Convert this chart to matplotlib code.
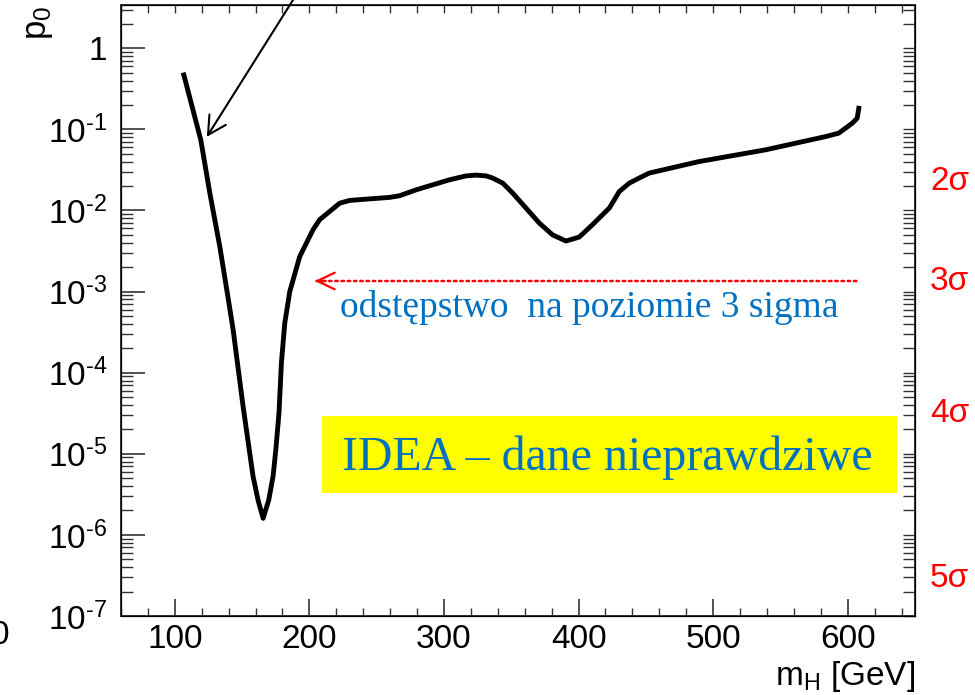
import matplotlib
matplotlib.use("Agg")
import matplotlib.pyplot as plt
from matplotlib.ticker import MultipleLocator, LogLocator, NullFormatter
from matplotlib.patches import Rectangle

# p0 scan vs Higgs mass
mass = [106.7, 119.3, 126.0, 133.4, 139.6, 143.3, 150.7, 158.1, 161.8, 165.6,
        169.8, 173.0, 175.0, 177.4, 179.2, 181.7, 185.4, 192.8, 202.7, 207.6,
        222.5, 229.9, 242.3, 259.6, 267.0, 279.4, 304.1, 316.4, 323.9, 331.3,
        336.2, 343.7, 351.0, 370.8, 380.7, 390.6, 400.5, 410.4, 422.8, 426.5,
        430.2, 437.6, 445.0, 452.4, 489.5, 539.0, 583.5, 593.3, 603.3, 607.0,
        608.2]
p0 = [0.469, 0.074, 0.0164, 3.6e-3, 8.3e-4, 3.4e-4, 3.86e-5, 5.3e-6, 2.7e-6, 1.6e-6,
      2.7e-6, 5.3e-6, 1.1e-5, 3.2e-5, 1.33e-4, 4.1e-4, 1.0e-3, 2.7e-3, 5.8e-3, 7.7e-3,
      0.0123, 0.0133, 0.0138, 0.0145, 0.0152, 0.018, 0.0239, 0.0267, 0.0273, 0.0267,
      0.0251, 0.0217, 0.0164, 7.0e-3, 5.0e-3, 4.2e-3, 4.7e-3, 6.7e-3, 0.0107, 0.0135,
      0.0171, 0.0217, 0.0251, 0.0289, 0.0401, 0.056, 0.0815, 0.0898, 0.119, 0.137,
      0.182]

sigma_labels = ["2σ", "3σ", "4σ", "5σ"]
sigma_pvalues = [2.275e-2, 1.35e-3, 3.17e-5, 2.87e-7]

y_decades = [1e-7, 1e-6, 1e-5, 1e-4, 1e-3, 1e-2, 1e-1, 1]
y_ticklabels = ["$10^{\u2010%d}$" % k for k in range(7, 0, -1)] + ["1"]

plt.rcParams["font.family"] = ["Liberation Sans", "DejaVu Sans"]
plt.rcParams["mathtext.default"] = "regular"

blue = "#0070C0"
ylim = (1e-7, 3.37)
xlim = (60, 650)

fig = plt.figure(figsize=(9.75, 6.95), dpi=100)
ax = fig.add_axes([0.1241, 0.1137, 0.8144, 0.8784])

ax.plot(mass, p0, color="black", lw=3.5, solid_joinstyle="round")

ax.set_yscale("log")
ax.set_xlim(*xlim)
ax.set_ylim(*ylim)

ax.xaxis.set_major_locator(MultipleLocator(100))
ax.xaxis.set_minor_locator(MultipleLocator(20))
ax.set_yticks(y_decades)
ax.set_yticklabels(y_ticklabels)
ax.yaxis.set_minor_locator(LogLocator(base=10, subs=range(2, 10), numticks=20))
ax.yaxis.set_minor_formatter(NullFormatter())

ax.tick_params(axis="both", which="both", direction="in", labelsize=24, color="#333333")
ax.tick_params(axis="y", which="major", length=17, width=1.2, pad=10)
ax.tick_params(axis="y", which="minor", length=8.5, width=1.0)
ax.tick_params(axis="x", which="major", length=12, width=1.2, pad=6)
ax.tick_params(axis="x", which="minor", length=6, width=1.0)
for s in ax.spines.values():
    s.set_linewidth(1.4)
    s.set_color("#333333")

# mirrored ticks on top and right
axt = ax.twiny()
axt.set_xlim(*xlim)
axt.xaxis.set_major_locator(MultipleLocator(100))
axt.xaxis.set_minor_locator(MultipleLocator(20))
axt.tick_params(axis="x", which="both", direction="in", length=6, width=1.0,
                labeltop=False, color="#333333")
axr = ax.twinx()
axr.set_yscale("log")
axr.set_ylim(*ylim)
axr.set_yticks(y_decades)
axr.yaxis.set_minor_locator(LogLocator(base=10, subs=range(2, 10), numticks=20))
axr.yaxis.set_minor_formatter(NullFormatter())
axr.tick_params(axis="y", which="both", direction="in", length=8.5, width=1.0,
                labelright=False, color="#333333")

ax.set_xlabel(r"$m_H$ [GeV]", fontsize=24, ha="right", va="top")
ax.xaxis.set_label_coords(1.0, -0.071)
ax.set_ylabel(r"$p_0$", fontsize=25, rotation=90, ha="right", va="top")
ax.yaxis.label.set_rotation_mode("default")
ax.yaxis.set_label_coords(-0.083, 1.0)

for lab, pv in zip(sigma_labels, sigma_pvalues):
    ax.text(1.019, pv, lab, color="red", fontsize=24, ha="left", va="center",
            transform=ax.get_yaxis_transform(), clip_on=False)

# black arrow from outside the frame
ax.annotate("", xy=(123.8, 0.081), xytext=(190, 4.5), annotation_clip=False,
            arrowprops=dict(arrowstyle="->,head_length=1.3,head_width=0.7",
                            mutation_scale=10, lw=1.5, color="black",
                            shrinkA=0, shrinkB=0))

# red dotted arrow at 3 sigma
p3 = sigma_pvalues[1]
ax.annotate("", xy=(205, p3), xytext=(606.5, p3),
            arrowprops=dict(arrowstyle="-", lw=1.8, color="red",
                            linestyle=(0, (1, 1.5)), shrinkA=0, shrinkB=0))
ax.annotate("", xy=(204, p3), xytext=(212, p3),
            arrowprops=dict(arrowstyle="->,head_length=1.25,head_width=0.6",
                            mutation_scale=10, lw=1.6, color="red",
                            shrinkA=0, shrinkB=0))

ax.text(0.276, 0.49, "odstępstwo  na poziomie 3 sigma", color=blue, fontsize=27,
        family="Liberation Serif", ha="left", va="baseline", transform=ax.transAxes)

ax.add_patch(Rectangle((0.253, 0.2015), 0.724, 0.126, transform=ax.transAxes,
                       facecolor="#FFFF00", edgecolor="none", zorder=3))
ax.text(0.6125, 0.259, "IDEA – dane nieprawdziwe", color=blue, fontsize=34.5,
        family="Liberation Serif", ha="center", va="center", transform=ax.transAxes,
        zorder=4)

# cut-off label remnant at the lower left edge
fig.text(0.0, 0.085, "0", fontsize=24, ha="center", va="center")

fig.savefig("out.png", dpi=100)
